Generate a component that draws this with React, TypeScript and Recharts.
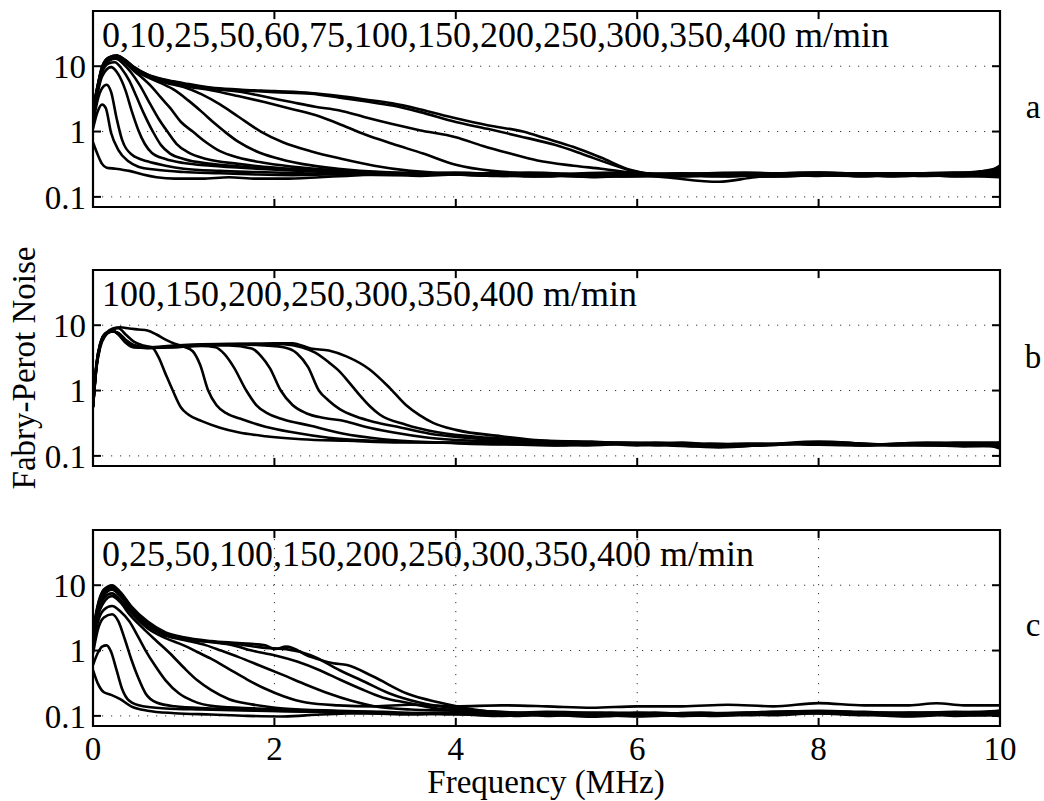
import { LineChart, Line, XAxis, YAxis, CartesianGrid, ReferenceArea, ReferenceLine } from 'recharts';

type Pt = [number, number];

// Panel a: speeds 0..400 m/min, frequency (MHz) vs noise
const a0: Pt[] = [[0,0.68],[0.05,0.45],[0.1,0.32],[0.15,0.28],[0.25,0.27],[0.4,0.25],[0.55,0.22],[0.7,0.2],[0.9,0.19],[1.2,0.19],[1.5,0.2],[1.8,0.19],[2.1,0.19],[2.5,0.2],[2.8,0.21],[3.2,0.22],[3.6,0.21],[4,0.22],[4.5,0.21],[5,0.225],[5.5,0.2],[6,0.215],[6.5,0.205],[7,0.22],[7.5,0.21],[8,0.23],[8.5,0.205],[9,0.225],[9.5,0.205],[10,0.22]];
const a10: Pt[] = [[0,1.1],[0.05,2.0],[0.1,2.6],[0.14,2.3],[0.2,0.95],[0.28,0.52],[0.39,0.35],[0.5,0.29],[0.7,0.26],[1,0.24],[1.4,0.23],[1.8,0.22],[2.2,0.215],[2.6,0.22],[3,0.23],[3.5,0.22],[4,0.235],[4.5,0.22],[5,0.205],[5.5,0.225],[6,0.23],[6.5,0.215],[7,0.205],[7.5,0.225],[8,0.235],[8.5,0.22],[9,0.23],[9.5,0.215],[10,0.24]];
const a25: Pt[] = [[0,1.3],[0.05,3.0],[0.1,4.6],[0.15,5.2],[0.2,4.0],[0.26,1.6],[0.32,0.75],[0.43,0.44],[0.6,0.35],[0.8,0.3],[1,0.27],[1.4,0.25],[1.8,0.24],[2.3,0.23],[2.8,0.22],[3.3,0.215],[3.8,0.225],[4.3,0.22],[4.8,0.205],[5.3,0.215],[5.8,0.225],[6.3,0.2],[6.9,0.17],[7.3,0.2],[7.8,0.215],[8.3,0.225],[8.8,0.205],[9.3,0.22],[9.8,0.21],[10,0.22]];
const a50: Pt[] = [[0,1.5],[0.05,3.8],[0.1,7],[0.2,9.7],[0.28,7.5],[0.36,4.2],[0.43,2.0],[0.5,1.05],[0.57,0.65],[0.65,0.47],[0.8,0.38],[1,0.33],[1.3,0.3],[1.8,0.27],[2.4,0.245],[3,0.23],[3.6,0.225],[4.2,0.22],[4.8,0.235],[5.4,0.22],[6,0.205],[6.6,0.225],[7.2,0.235],[7.8,0.22],[8.4,0.21],[9,0.225],[9.6,0.235],[10,0.26]];
const a60: Pt[] = [[0,1.6],[0.05,4.2],[0.1,8],[0.17,11],[0.24,11.5],[0.32,9],[0.4,6],[0.48,3.4],[0.56,1.9],[0.66,1.0],[0.75,0.62],[0.85,0.46],[1,0.38],[1.3,0.32],[1.8,0.28],[2.5,0.25],[3,0.235],[3.5,0.225],[4,0.22],[4.6,0.21],[5.2,0.225],[5.8,0.235],[6.4,0.21],[7,0.22],[7.6,0.205],[8.2,0.23],[8.8,0.21],[9.4,0.225],[10,0.23]];
const a75: Pt[] = [[0,1.7],[0.05,4.3],[0.1,8.5],[0.17,12],[0.25,13],[0.33,11],[0.42,8],[0.52,5],[0.62,2.8],[0.72,1.6],[0.82,1.0],[0.92,0.65],[1.05,0.48],[1.25,0.38],[1.6,0.32],[2,0.28],[2.6,0.25],[3.2,0.23],[3.8,0.225],[4.4,0.21],[5,0.225],[5.6,0.21],[6.2,0.225],[6.8,0.21],[7.4,0.225],[8,0.235],[8.6,0.22],[9.2,0.21],[9.8,0.225],[10,0.3]];
const a100: Pt[] = [[0,1.8],[0.05,4.4],[0.1,8.8],[0.17,12.5],[0.26,13.5],[0.35,11.5],[0.45,8.5],[0.55,6.5],[0.65,4.8],[0.75,3.3],[0.85,2.3],[0.97,1.4],[1.1,1.0],[1.25,0.68],[1.4,0.5],[1.6,0.4],[1.9,0.33],[2.3,0.28],[2.8,0.25],[3.4,0.23],[4,0.22],[4.6,0.23],[5.2,0.21],[5.8,0.205],[6.4,0.225],[7,0.21],[7.6,0.23],[8.2,0.215],[8.8,0.23],[9.4,0.215],[10,0.23]];
const a150: Pt[] = [[0,1.9],[0.05,4.5],[0.1,9],[0.17,12.8],[0.26,14],[0.35,12],[0.45,9],[0.6,6.8],[0.75,5.5],[0.9,4.3],[1.05,3.0],[1.2,2.0],[1.35,1.3],[1.45,1.0],[1.6,0.7],[1.8,0.5],[2.0,0.4],[2.3,0.32],[2.7,0.27],[3.2,0.24],[3.8,0.23],[4.4,0.215],[5,0.21],[5.6,0.225],[6.2,0.21],[6.8,0.225],[7.4,0.205],[8,0.22],[8.6,0.23],[9.2,0.215],[9.8,0.205],[10,0.2]];
const a200: Pt[] = [[0,2],[0.05,4.6],[0.1,9.2],[0.17,13],[0.26,14.2],[0.35,12.2],[0.45,9.2],[0.6,7],[0.8,5.6],[1.0,4.8],[1.2,3.7],[1.4,2.6],[1.6,1.7],[1.85,1.0],[2.1,0.68],[2.4,0.5],[2.75,0.38],[3.1,0.3],[3.5,0.25],[4,0.23],[4.5,0.23],[5,0.215],[5.5,0.205],[6,0.22],[6.5,0.23],[7,0.21],[7.5,0.225],[8,0.21],[8.5,0.225],[9,0.23],[9.5,0.21],[10,0.25]];
const a250: Pt[] = [[0,2],[0.05,4.7],[0.1,9.4],[0.17,13.2],[0.26,14.3],[0.35,12.3],[0.45,9.4],[0.6,7.2],[0.8,5.8],[1.0,5.0],[1.3,4.3],[1.6,3.5],[1.9,2.8],[2.2,2.2],[2.5,1.7],[2.75,1.25],[3.0,0.9],[3.3,0.65],[3.64,0.46],[4.0,0.31],[4.4,0.25],[5,0.225],[5.5,0.215],[6,0.21],[6.5,0.225],[7,0.23],[7.5,0.21],[8,0.225],[8.5,0.21],[9,0.225],[9.5,0.235],[10,0.22]];
const a300: Pt[] = [[0,2.1],[0.05,4.8],[0.1,9.5],[0.17,13.3],[0.26,14.4],[0.35,12.4],[0.45,9.5],[0.6,7.3],[0.8,6],[1.0,5.2],[1.3,4.5],[1.6,4.1],[1.9,3.4],[2.2,2.8],[2.45,2.4],[2.72,2.1],[3.0,1.65],[3.3,1.3],[3.6,1.05],[4.0,0.82],[4.3,0.6],[4.6,0.46],[4.9,0.36],[5.3,0.3],[5.6,0.27],[6,0.23],[6.5,0.215],[7,0.21],[7.5,0.225],[8,0.23],[8.5,0.215],[9,0.21],[9.5,0.225],[10,0.24]];
const a350: Pt[] = [[0,2.1],[0.05,4.9],[0.1,9.6],[0.17,13.4],[0.26,14.5],[0.35,12.5],[0.45,9.6],[0.6,7.4],[0.8,6.1],[1.0,5.4],[1.3,4.6],[1.6,4.3],[2.0,4.0],[2.4,3.8],[2.72,3.3],[3.0,2.9],[3.3,2.5],[3.6,2.0],[4.0,1.4],[4.35,1.1],[4.7,0.85],[5.1,0.62],[5.4,0.45],[5.7,0.32],[6.0,0.24],[6.4,0.215],[6.9,0.22],[7.4,0.21],[7.9,0.23],[8.4,0.21],[8.9,0.225],[9.4,0.23],[10,0.22]];
const a400: Pt[] = [[0,2.2],[0.05,5],[0.1,9.8],[0.17,13.5],[0.26,14.6],[0.35,12.6],[0.45,9.8],[0.6,7.5],[0.8,6.2],[1.0,5.5],[1.3,4.7],[1.6,4.4],[2.0,4.15],[2.4,3.9],[2.72,3.5],[3.0,3.1],[3.3,2.7],[3.6,2.2],[4.0,1.6],[4.35,1.25],[4.74,1.0],[5.0,0.78],[5.3,0.58],[5.6,0.4],[5.92,0.26],[6.2,0.22],[6.6,0.21],[7.1,0.225],[7.6,0.21],[8.1,0.225],[8.6,0.23],[9.1,0.21],[9.6,0.225],[10,0.28]];

// Panel b: speeds 100..400 m/min
const b100: Pt[] = [[0,0.55],[0.04,2.3],[0.08,4.6],[0.14,7],[0.22,8.6],[0.28,9],[0.36,7.2],[0.45,5.6],[0.55,4.9],[0.65,4.6],[0.72,3.3],[0.8,1.8],[0.88,1.0],[0.97,0.55],[1.05,0.43],[1.2,0.34],[1.4,0.27],[1.6,0.23],[1.9,0.2],[2.3,0.18],[2.8,0.17],[3.4,0.16],[4,0.16],[4.6,0.15],[5.2,0.145],[5.8,0.16],[6.4,0.15],[7,0.14],[7.6,0.15],[8.2,0.16],[8.8,0.145],[9.4,0.155],[10,0.15]];
const b150: Pt[] = [[0,0.55],[0.04,2.4],[0.08,4.9],[0.14,7.5],[0.22,8.9],[0.3,9.3],[0.4,8.9],[0.5,8.6],[0.6,8.3],[0.7,7.2],[0.8,6.0],[0.9,5.2],[1.0,4.7],[1.1,4.0],[1.18,2.5],[1.27,1.0],[1.36,0.6],[1.47,0.45],[1.65,0.36],[1.9,0.28],[2.2,0.23],[2.6,0.19],[3.1,0.17],[3.8,0.16],[4.5,0.155],[5.1,0.145],[5.7,0.16],[6.3,0.15],[6.9,0.135],[7.5,0.15],[8.1,0.16],[8.7,0.15],[9.3,0.145],[10,0.14]];
const b200: Pt[] = [[0,0.56],[0.04,2.5],[0.08,5],[0.14,7.3],[0.22,8],[0.28,7.6],[0.36,6],[0.45,5],[0.6,4.6],[0.8,4.6],[1.0,4.7],[1.2,4.8],[1.35,4.6],[1.45,3.6],[1.55,2.3],[1.69,1.0],[1.8,0.6],[1.92,0.45],[2.1,0.36],[2.4,0.29],[2.75,0.22],[3.2,0.18],[3.8,0.16],[4.4,0.15],[5,0.155],[5.6,0.16],[6.2,0.145],[6.8,0.155],[7.4,0.145],[8,0.16],[8.6,0.15],[9.2,0.16],[9.8,0.145],[10,0.16]];
const b250: Pt[] = [[0,0.56],[0.04,2.5],[0.08,5],[0.14,7.3],[0.22,8.1],[0.28,7.5],[0.36,5.8],[0.45,4.8],[0.6,4.5],[0.9,4.6],[1.2,4.9],[1.5,4.9],[1.75,4.4],[1.85,3.4],[1.95,2.2],[2.07,1.0],[2.2,0.6],[2.35,0.45],[2.55,0.38],[2.78,0.34],[3.0,0.28],[3.3,0.23],[3.7,0.19],[4.2,0.17],[4.8,0.16],[5.4,0.145],[6,0.155],[6.6,0.14],[7.2,0.155],[7.8,0.15],[8.4,0.145],[9,0.155],[9.6,0.14],[10,0.15]];
const b300: Pt[] = [[0,0.57],[0.04,2.6],[0.08,5.1],[0.14,7.4],[0.22,8],[0.28,7.4],[0.36,5.6],[0.45,4.7],[0.6,4.5],[0.9,4.7],[1.2,5.0],[1.5,5.1],[1.8,5.0],[2.1,4.6],[2.25,3.7],[2.37,2.3],[2.49,1.0],[2.6,0.7],[2.72,0.52],[2.9,0.4],[3.1,0.33],[3.4,0.27],[3.7,0.22],[4.1,0.19],[4.6,0.17],[5.1,0.16],[5.6,0.15],[6.2,0.16],[6.8,0.145],[7.4,0.15],[8,0.165],[8.6,0.15],[9.2,0.145],[9.8,0.15],[10,0.13]];
const b350: Pt[] = [[0,0.57],[0.04,2.6],[0.08,5.2],[0.14,7.5],[0.22,8.1],[0.28,7.3],[0.36,5.5],[0.45,4.6],[0.6,4.5],[0.9,4.8],[1.2,5.0],[1.5,5.1],[1.8,5.2],[2.1,5.1],[2.3,4.6],[2.45,3.8],[2.6,2.7],[2.72,1.95],[2.83,1.3],[2.94,0.85],[3.05,0.58],[3.16,0.43],[3.45,0.3],[3.8,0.23],[4.35,0.19],[5,0.17],[5.5,0.16],[6,0.145],[6.5,0.16],[7,0.14],[7.5,0.15],[8,0.16],[8.5,0.145],[9,0.15],[9.5,0.16],[10,0.16]];
const b400: Pt[] = [[0,0.58],[0.04,2.7],[0.08,5.3],[0.14,7.6],[0.22,8.2],[0.28,7.2],[0.36,5.4],[0.45,4.6],[0.6,4.6],[0.9,4.9],[1.2,5.1],[1.5,5.2],[1.8,5.2],[2.0,5.3],[2.2,5.3],[2.4,4.4],[2.6,4.1],[2.8,3.3],[3.05,2.1],[3.27,1.1],[3.45,0.6],[3.6,0.42],[3.75,0.32],[4.0,0.25],[4.5,0.2],[5.0,0.17],[5.5,0.165],[6,0.15],[6.5,0.155],[7,0.145],[7.5,0.15],[8,0.16],[8.5,0.145],[9,0.155],[9.5,0.145],[10,0.15]];

// Panel c: speeds 0..400 m/min
const c0: Pt[] = [[0,0.5],[0.05,0.32],[0.12,0.23],[0.2,0.21],[0.3,0.18],[0.42,0.14],[0.6,0.12],[0.9,0.11],[1.3,0.105],[1.7,0.1],[2.1,0.098],[2.5,0.105],[3,0.11],[3.5,0.105],[4,0.11],[4.5,0.1],[5,0.105],[5.5,0.097],[6,0.105],[6.5,0.1],[7,0.105],[7.5,0.11],[8,0.115],[8.5,0.105],[9,0.1],[9.5,0.11],[10,0.105]];
const c25: Pt[] = [[0,0.6],[0.05,0.9],[0.1,1.15],[0.15,1.2],[0.2,0.95],[0.26,0.5],[0.32,0.26],[0.4,0.17],[0.55,0.14],[0.8,0.13],[1.2,0.125],[1.8,0.12],[2.5,0.115],[3,0.11],[3.5,0.11],[4,0.105],[4.5,0.11],[5,0.1],[5.5,0.105],[6,0.098],[6.5,0.105],[7,0.11],[7.5,0.102],[8,0.11],[8.5,0.105],[9,0.098],[9.5,0.105],[10,0.1]];
const c50: Pt[] = [[0,0.9],[0.05,2.0],[0.12,3.2],[0.21,3.6],[0.28,2.8],[0.35,1.5],[0.42,0.75],[0.5,0.38],[0.58,0.22],[0.7,0.16],[0.9,0.14],[1.3,0.13],[2,0.12],[2.6,0.115],[3.2,0.11],[3.8,0.11],[4.4,0.1],[5,0.11],[5.6,0.105],[6.2,0.112],[6.8,0.1],[7.4,0.11],[8,0.118],[8.6,0.11],[9.2,0.112],[9.8,0.102],[10,0.11]];
const c100: Pt[] = [[0,1.1],[0.05,2.6],[0.12,4.2],[0.21,4.8],[0.3,4.0],[0.4,2.8],[0.5,1.6],[0.58,1.0],[0.68,0.6],[0.8,0.35],[0.95,0.22],[1.1,0.17],[1.35,0.14],[1.8,0.13],[2.5,0.12],[3,0.115],[3.5,0.11],[4,0.112],[4.5,0.102],[5,0.11],[5.5,0.112],[6,0.103],[6.5,0.11],[7,0.102],[7.5,0.112],[8,0.11],[8.5,0.102],[9,0.11],[9.5,0.112],[10,0.12]];
const c150: Pt[] = [[0,1.3],[0.05,3.2],[0.12,5.5],[0.21,6.8],[0.3,5.5],[0.4,3.6],[0.55,2.2],[0.7,1.4],[0.85,0.9],[1.0,0.55],[1.15,0.35],[1.3,0.25],[1.5,0.18],[1.75,0.15],[2.1,0.13],[2.7,0.12],[3.2,0.115],[3.7,0.11],[4.2,0.112],[4.7,0.1],[5.2,0.11],[5.7,0.1],[6.2,0.105],[6.7,0.112],[7.2,0.102],[7.7,0.11],[8.2,0.115],[8.7,0.108],[9.2,0.102],[9.7,0.11],[10,0.1]];
const c200: Pt[] = [[0,1.5],[0.05,3.6],[0.12,6.3],[0.21,7.5],[0.3,6.0],[0.42,3.8],[0.6,2.2],[0.8,1.55],[1.0,1.2],[1.15,0.95],[1.3,0.75],[1.5,0.52],[1.7,0.36],[1.9,0.26],[2.1,0.2],[2.35,0.16],[2.7,0.145],[3.1,0.14],[3.5,0.148],[4,0.14],[4.5,0.145],[5,0.14],[5.5,0.133],[6,0.14],[6.5,0.14],[7,0.148],[7.5,0.14],[8,0.157],[8.5,0.145],[9,0.145],[9.3,0.156],[9.6,0.145],[10,0.145]];
const c250: Pt[] = [[0,1.6],[0.05,4],[0.12,7],[0.21,8.5],[0.3,6.8],[0.42,4.2],[0.6,2.4],[0.8,1.7],[1.0,1.45],[1.25,1.2],[1.41,1.0],[1.6,0.8],[1.85,0.58],[2.1,0.42],[2.35,0.3],[2.6,0.22],[2.85,0.17],[3.1,0.14],[3.5,0.125],[4,0.12],[4.5,0.11],[5,0.115],[5.5,0.11],[6,0.1],[6.5,0.105],[7,0.11],[7.5,0.115],[8,0.12],[8.5,0.115],[9,0.11],[9.5,0.115],[10,0.11]];
const c300: Pt[] = [[0,1.8],[0.05,4.4],[0.12,7.8],[0.21,9.2],[0.3,7.3],[0.42,4.5],[0.6,2.6],[0.8,1.8],[1.0,1.5],[1.3,1.35],[1.55,1.2],[1.75,1.0],[2.0,0.85],[2.25,0.68],[2.5,0.5],[2.72,0.36],[2.95,0.26],[3.2,0.19],[3.45,0.16],[3.8,0.13],[4.2,0.12],[4.7,0.11],[5.2,0.105],[5.7,0.112],[6.2,0.105],[6.7,0.11],[7.2,0.112],[7.7,0.118],[8.2,0.11],[8.7,0.112],[9.2,0.105],[9.7,0.11],[10,0.12]];
const c350: Pt[] = [[0,1.9],[0.05,4.6],[0.12,8.3],[0.21,9.6],[0.3,7.6],[0.42,4.6],[0.6,2.7],[0.8,1.85],[1.0,1.55],[1.3,1.35],[1.6,1.25],[1.9,1.1],[2.13,1.05],[2.4,0.85],[2.72,0.5],[3.0,0.33],[3.27,0.22],[3.6,0.16],[4,0.13],[4.5,0.115],[5,0.11],[5.5,0.105],[6,0.112],[6.5,0.1],[7,0.105],[7.5,0.112],[8,0.11],[8.5,0.105],[9,0.112],[9.5,0.1],[10,0.105]];
const c400: Pt[] = [[0,2],[0.05,4.8],[0.12,8.6],[0.21,10],[0.3,7.9],[0.42,4.8],[0.6,2.8],[0.8,1.9],[1.0,1.6],[1.3,1.4],[1.6,1.3],[1.9,1.2],[2.0,1.05],[2.13,1.15],[2.4,0.8],[2.65,0.64],[2.8,0.6],[3.09,0.4],[3.46,0.22],[3.82,0.16],[4.2,0.125],[4.6,0.11],[5,0.105],[5.5,0.1],[6,0.105],[6.5,0.105],[7,0.11],[7.5,0.105],[8,0.115],[8.5,0.11],[9,0.105],[9.5,0.11],[10,0.115]];

const SPEEDS_A = [0, 10, 25, 50, 60, 75, 100, 150, 200, 250, 300, 350, 400];
const SPEEDS_B = [100, 150, 200, 250, 300, 350, 400];
const SPEEDS_C = [0, 25, 50, 100, 150, 200, 250, 300, 350, 400];
const CURVES_A = [a0, a10, a25, a50, a60, a75, a100, a150, a200, a250, a300, a350, a400];
const CURVES_B = [b100, b150, b200, b250, b300, b350, b400];
const CURVES_C = [c0, c25, c50, c100, c150, c200, c250, c300, c350, c400];

const X_TICKS = [0, 2, 4, 6, 8, 10];
const Y_TICKS = [0.1, 1, 10];
const X_DOMAIN: [number, number] = [0, 10];
const Y_DOMAIN: [number, number] = [0.07, 70];
// inward tick length, in axis units (about 8px)
const X_TICK_LEN = 0.088;
const Y_TICK_FACTOR = 1.33;

const FONT = '"Liberation Serif", "Times New Roman", Times, serif';
const LABEL_STYLE = { fill: '#000', fontSize: 33, fontFamily: FONT };
const PLOT_TOPS = [11, 270, 530];
const PLOT_H = 196;
const TICK_PROPS = { stroke: '#000', strokeWidth: 2, xAxisId: 'b', yAxisId: 'l' };

function Panel({ curves, plotTop, showX }: { curves: Pt[][]; plotTop: number; showX: boolean }) {
  const xHeight = showX ? 40 : 0;
  const height = 11 + PLOT_H + xHeight + 10;
  const innerX = X_TICKS.slice(1, -1);
  return (
    <div style={{ position: 'absolute', left: 0, top: plotTop - 11 }}>
      <LineChart width={1044} height={height} margin={{ top: 11, right: 44, bottom: 10, left: 33 }}>
        <CartesianGrid xAxisId="b" yAxisId="l" stroke="#333" strokeWidth={1} strokeDasharray="1.2 7.8" />
        <XAxis
          xAxisId="b"
          type="number"
          dataKey="f"
          domain={X_DOMAIN}
          ticks={X_TICKS}
          interval={0}
          allowDataOverflow
          height={xHeight}
          axisLine={false}
          tickLine={false}
          tickSize={0}
          tickMargin={11}
          tick={showX ? LABEL_STYLE : false}
        />
        <YAxis
          yAxisId="l"
          scale="log"
          type="number"
          domain={Y_DOMAIN}
          ticks={Y_TICKS}
          interval={0}
          allowDataOverflow
          width={60}
          axisLine={false}
          tickLine={false}
          tickSize={0}
          tickMargin={7}
          tick={LABEL_STYLE}
        />
        {curves.map((pts, i) => (
          <Line
            key={i}
            xAxisId="b"
            yAxisId="l"
            data={pts.map(([f, v]) => ({ f, v }))}
            dataKey="v"
            type="monotone"
            stroke="#000"
            strokeWidth={2.6}
            dot={false}
            activeDot={false}
            isAnimationActive={false}
          />
        ))}
        {innerX.map((t) => (
          <ReferenceLine key={`xb${t}`} {...TICK_PROPS} segment={[{ x: t, y: Y_DOMAIN[0] }, { x: t, y: Y_DOMAIN[0] * Y_TICK_FACTOR }]} />
        ))}
        {innerX.map((t) => (
          <ReferenceLine key={`xt${t}`} {...TICK_PROPS} segment={[{ x: t, y: Y_DOMAIN[1] }, { x: t, y: Y_DOMAIN[1] / Y_TICK_FACTOR }]} />
        ))}
        {Y_TICKS.map((t) => (
          <ReferenceLine key={`yl${t}`} {...TICK_PROPS} segment={[{ x: X_DOMAIN[0], y: t }, { x: X_DOMAIN[0] + X_TICK_LEN, y: t }]} />
        ))}
        {Y_TICKS.map((t) => (
          <ReferenceLine key={`yr${t}`} {...TICK_PROPS} segment={[{ x: X_DOMAIN[1], y: t }, { x: X_DOMAIN[1] - X_TICK_LEN, y: t }]} />
        ))}
        <ReferenceArea
          xAxisId="b"
          yAxisId="l"
          x1={X_DOMAIN[0]}
          x2={X_DOMAIN[1]}
          y1={Y_DOMAIN[0]}
          y2={Y_DOMAIN[1]}
          fill="none"
          fillOpacity={0}
          stroke="#000"
          strokeWidth={2.2}
          ifOverflow="visible"
        />
      </LineChart>
    </div>
  );
}

const title = (speeds: number[]) => `${speeds.join(',')} m/min`;

export default function App() {
  return (
    <div style={{ position: 'absolute', left: 0, top: 0, width: 1044, height: 801, background: '#fff' }}>
      <Panel curves={CURVES_A} plotTop={PLOT_TOPS[0]} showX={false} />
      <Panel curves={CURVES_B} plotTop={PLOT_TOPS[1]} showX={false} />
      <Panel curves={CURVES_C} plotTop={PLOT_TOPS[2]} showX />
      <svg
        width={1044}
        height={801}
        style={{ position: 'absolute', left: 0, top: 0, pointerEvents: 'none' }}
        fontFamily={FONT}
        fill="#000"
      >
        <text x={102} y={47} fontSize={36}>{title(SPEEDS_A)}</text>
        <text x={102} y={306} fontSize={36}>{title(SPEEDS_B)}</text>
        <text x={102} y={566} fontSize={36}>{title(SPEEDS_C)}</text>
        <text x={1033} y={118} fontSize={33} textAnchor="middle">a</text>
        <text x={1033} y={368} fontSize={33} textAnchor="middle">b</text>
        <text x={1033} y={636} fontSize={33} textAnchor="middle">c</text>
        <text x={546} y={793} fontSize={33} textAnchor="middle">Frequency (MHz)</text>
        <text x={35} y={368} fontSize={33} textAnchor="middle" transform="rotate(-90 35 368)">
          Fabry-Perot Noise
        </text>
      </svg>
    </div>
  );
}
